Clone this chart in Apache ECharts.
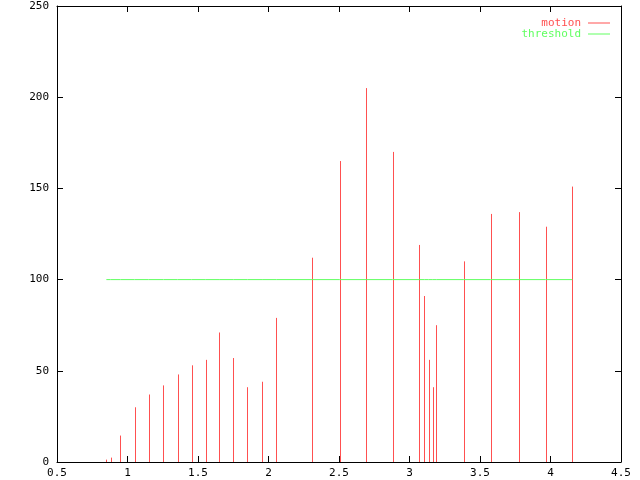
<!DOCTYPE html>
<html>
<head>
<meta charset="utf-8">
<script src="https://cdn.jsdelivr.net/npm/echarts@6/dist/echarts.min.js"></script>
<style>
  html, body { margin: 0; padding: 0; background: #fff; }
  #chart { width: 640px; height: 480px; }
</style>
</head>
<body>
<div id="chart"></div>
<script>
// data
var motionX = [0.85, 0.88, 0.95, 1.05, 1.15, 1.255, 1.355, 1.455, 1.555, 1.65, 1.75, 1.85, 1.955, 2.055,
               2.31, 2.505, 2.695, 2.88, 3.07, 3.105, 3.135, 3.165, 3.19, 3.385, 3.575, 3.78, 3.965, 4.155];
var motionY = [1.3, 2.4, 14.5, 30, 37, 42, 48, 53, 56, 71, 57, 41, 44, 79,
               112, 165, 205, 170, 119, 91, 56, 41, 75, 110, 136, 137, 129, 151];
var thresholdValue = 100;
var xTicks = { min: 0.5, max: 4.5, step: 0.5 };
var yTicks = { min: 0, max: 250, step: 50 };

var RED = '#ff5050';
var GREEN = '#60ff60';
var FONT = 'DejaVu Sans Mono';

var motionData = motionX.map(function (x, i) { return [x, motionY[i]]; });
var thresholdData = motionX.map(function (x) { return [x, thresholdValue]; });

function axisBase(extra) {
    var a = {
        axisLine: { show: true, onZero: false, lineStyle: { color: '#000', width: 1 } },
        axisTick: { show: true, inside: true, length: 6, lineStyle: { color: '#000' } },
        splitLine: { show: false },
        axisLabel: { color: '#000', fontFamily: FONT, fontSize: 11 }
    };
    for (var k in extra) a[k] = extra[k];
    return a;
}

var chart = echarts.init(document.getElementById('chart'));
chart.setOption({
    animation: false,
    backgroundColor: '#fff',
    grid: { left: 57, right: 19, top: 6, bottom: 18 },
    legend: {
        orient: 'vertical',
        right: 30,
        top: 17.5,
        padding: 0,
        align: 'right',
        icon: 'rect',
        itemWidth: 22,
        itemHeight: 1,
        itemGap: 0,
        selectedMode: false,
        textStyle: { fontFamily: FONT, fontSize: 11, lineHeight: 11, padding: [0, 2, 0, 0] },
        data: [
            { name: 'motion', textStyle: { color: RED } },
            { name: 'threshold', textStyle: { color: GREEN } }
        ]
    },
    xAxis: [
        axisBase({ type: 'value', position: 'bottom', min: xTicks.min, max: xTicks.max, interval: xTicks.step,
            axisLabel: { color: '#000', fontFamily: FONT, fontSize: 11, margin: 6 } }),
        axisBase({ type: 'value', position: 'top', min: xTicks.min, max: xTicks.max, interval: xTicks.step,
            axisLabel: { show: false } })
    ],
    yAxis: [
        axisBase({ type: 'value', position: 'left', min: yTicks.min, max: yTicks.max, interval: yTicks.step,
            axisLabel: { color: '#000', fontFamily: FONT, fontSize: 11, margin: 8 } }),
        axisBase({ type: 'value', position: 'right', min: yTicks.min, max: yTicks.max, interval: yTicks.step,
            axisLabel: { show: false } })
    ],
    series: [
        {
            name: 'motion',
            type: 'custom',
            color: RED,
            data: motionData,
            renderItem: function (params, api) {
                var top = api.coord([api.value(0), api.value(1)]);
                var base = api.coord([api.value(0), 0]);
                var x = Math.round(top[0]) + 0.5;
                return {
                    type: 'line',
                    shape: { x1: x, y1: base[1], x2: x, y2: top[1] },
                    style: { stroke: RED, lineWidth: 1 }
                };
            }
        },
        {
            name: 'threshold',
            type: 'line',
            color: GREEN,
            data: thresholdData,
            symbol: 'none',
            lineStyle: { color: GREEN, width: 1 }
        }
    ]
});
</script>
</body>
</html>
